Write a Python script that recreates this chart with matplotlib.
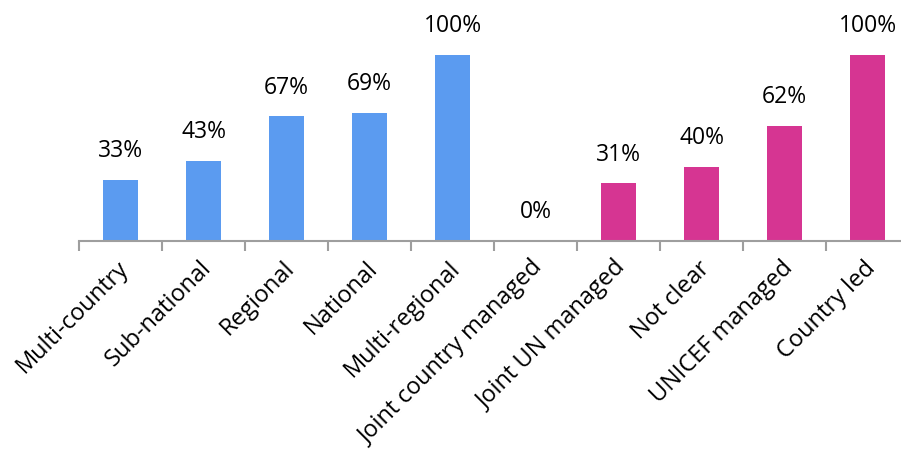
import matplotlib
matplotlib.use('Agg')
import matplotlib.pyplot as plt
import matplotlib.transforms as mtransforms
import numpy as np

categories = ['Multi-country', 'Sub-national', 'Regional', 'National', 'Multi-regional',
              'Joint country managed', 'Joint UN managed', 'Not clear', 'UNICEF managed',
              'Country led']
values = [33, 43, 67, 69, 100, 0, 31, 40, 62, 100]
groups = ['scope'] * 5 + ['management'] * 5

colours = {'scope': '#5B9BF0', 'management': '#D63592'}

plt.rcParams['font.family'] = ['Open Sans', 'DejaVu Sans']

fig = plt.figure(figsize=(9.01, 4.5), dpi=100)
ax = fig.add_axes([79 / 901, 1 - 241 / 450, 830 / 901, (241 - 55) / 450])

x = np.arange(len(categories))
bars = ax.bar(x, values, width=0.41, color=[colours[g] for g in groups])

for xi, v in zip(x, values):
    ax.annotate('{:d}%'.format(v), (xi, v), xytext=(0, 12), textcoords='offset points',
                ha='center', va='bottom', fontsize=16.5, color='#000000')

ax.set_xlim(-0.5, len(categories) - 0.5)
ax.set_ylim(0, 100)

for side in ['top', 'right', 'left']:
    ax.spines[side].set_visible(False)
ax.spines['bottom'].set_color('#9E9E9E')
ax.spines['bottom'].set_linewidth(1.5)
ax.set_yticks([])

ax.set_xticks(x)
ax.set_xticklabels(categories, rotation=45, ha='right', va='top',
                   rotation_mode='anchor', fontsize=17, color='#000000')
ax.tick_params(axis='x', which='major', length=0, pad=11)
# nudge the rotated labels a little to the left
shift = mtransforms.ScaledTranslation(-4 / 100, 0, fig.dpi_scale_trans)
for lbl in ax.get_xticklabels():
    lbl.set_transform(lbl.get_transform() + shift)
ax.set_xticks(np.arange(-0.5, len(categories)), minor=True)
ax.tick_params(axis='x', which='minor', length=7, width=1.5, color='#9E9E9E')

fig.savefig('out.png', dpi=100)
